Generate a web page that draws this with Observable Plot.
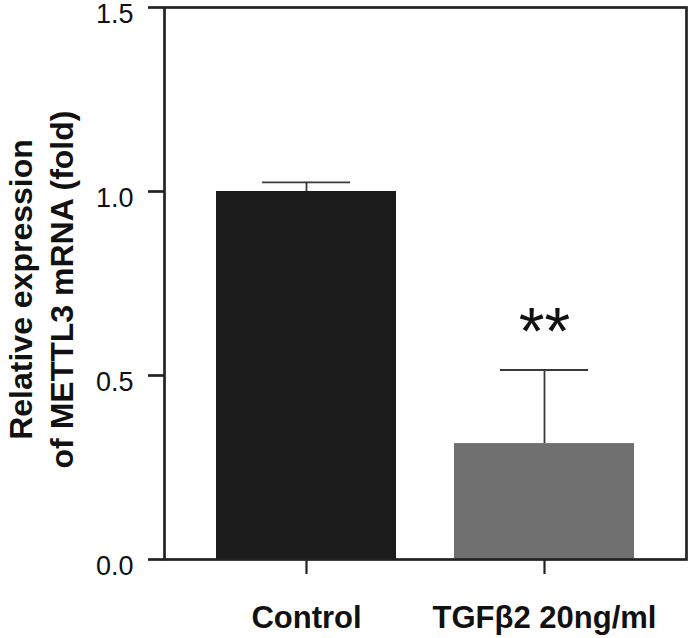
<!DOCTYPE html>
<html>
<head>
<meta charset="utf-8">
<script src="https://cdn.jsdelivr.net/npm/d3@7"></script>
<script src="https://cdn.jsdelivr.net/npm/@observablehq/plot@0.6"></script>
<style>
  html, body { margin: 0; padding: 0; background: #fff; }
  #chart svg { display: block; }
</style>
</head>
<body>
<div id="chart"></div>
<script>
// Data
const groups = ["Control", "TGFβ2 20ng/ml"];
const means = [1.0, 0.315];
const errors = [0.025, 0.20];
const barColors = ["#1b1b1b", "#707070"];
const yTicks = [0.0, 0.5, 1.0, 1.5];
const annotations = ["", "**"];
const annotationY = [null, 0.66];
const yTitle = "Relative expression\nof METTL3 mRNA (fold)";

const data = groups.map((g, i) => ({
  group: g, mean: means[i], err: errors[i], color: barColors[i],
  note: annotations[i], noteY: annotationY[i]
}));

const font = "'Liberation Sans', Arial, Helvetica, sans-serif";

const chart = Plot.plot({
  width: 693,
  height: 638,
  marginLeft: 164,
  marginRight: 7,
  marginTop: 7,
  marginBottom: 79,
  style: { fontFamily: font, background: "#fff", color: "#111" },
  x: { domain: groups, paddingInner: 0.243, paddingOuter: 0.216, label: null },
  y: { domain: [0, 1.5], label: null },
  marks: [
    Plot.barY(data, { x: "group", y: "mean", fill: "color" }),
    Plot.ruleX(data, { x: "group", y1: "mean", y2: d => d.mean + d.err, stroke: "#3a3a3a", strokeWidth: 1.8 }),
    Plot.tickY(data, { x: "group", y: d => d.mean + d.err, stroke: "#3a3a3a", strokeWidth: 1.8, insetLeft: 46, insetRight: 46 }),
    Plot.text(data.filter(d => d.note), { x: "group", y: "noteY", text: "note", fontSize: 66, fill: "#111", lineAnchor: "middle", dy: 16, letterSpacing: -3 }),
    Plot.frame({ stroke: "#222", strokeWidth: 2.7 }),
    Plot.axisY({ ticks: yTicks, tickSize: 16, text: null, stroke: "#222", strokeWidth: 2.7 }),
    Plot.axisY({ ticks: yTicks, tickSize: 0, tickPadding: 31, tickFormat: d3.format(".1f"), fontSize: 27, fill: "#111", dy: 7 }),
    Plot.axisX({ tickSize: 15, tickPadding: 31, stroke: "#222", strokeWidth: 2.2, fontSize: 31, fontWeight: "bold", fill: "#111", letterSpacing: 0.6 }),
    Plot.text([yTitle], { frameAnchor: "left", rotate: -90, dx: -125, dy: 6, fontSize: 32, fontWeight: "bold", lineHeight: 1.28, lineAnchor: "middle", textAnchor: "middle", fill: "#111" })
  ]
});
document.getElementById("chart").appendChild(chart);
</script>
</body>
</html>
